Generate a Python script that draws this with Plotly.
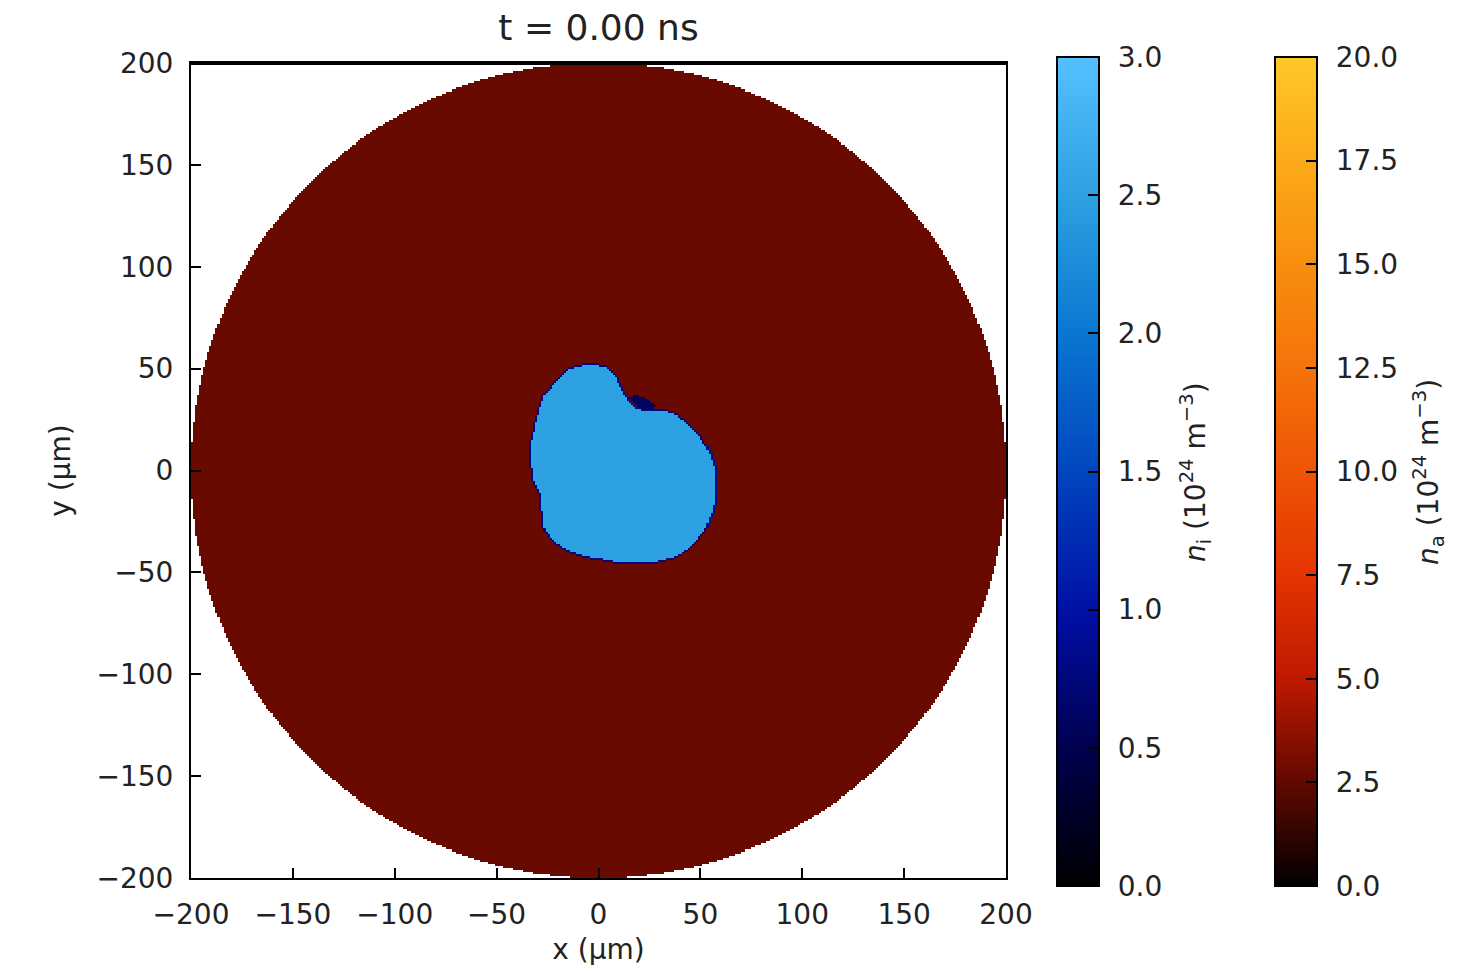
import numpy as np
import plotly.graph_objects as go

# ---- data ----
disk_radius = 200.0          # μm, extent of the n_a region
n_a_disk = 2.7               # 10^24 m^-3
n_i_blob = 2.5               # 10^24 m^-3
n_i_edge = 0.8               # darker rim of the blob
n_i_patch = 0.6              # dark patch at the notch
# blob outline (μm)
blob_x = [-4.2, 4.0, 8.9, 11.4, 14.6, 18.7, 23.6, 30.2, 38.4, 44.9, 50.6, 55.5, 58.0, 58.3, 57.2,
          53.1, 46.5, 38.4, 28.5, 18.7, 7.3, -5.8, -15.6, -23.0, -27.9, -28.7, -29.5, -32.8, -33.9,
          -33.6, -31.2, -27.9, -21.3, -14.0]
blob_y = [53.4, 51.8, 46.9, 41.1, 35.4, 31.3, 29.7, 30.5, 28.1, 23.1, 16.6, 8.4, 0.2, -9.6, -19.4,
          -29.2, -37.4, -43.1, -45.6, -46.4, -45.6, -43.1, -39.8, -34.9, -27.6, -17.8, -11.2, -4.7, 3.5,
          15.0, 24.8, 36.2, 44.4, 51.0]
# dark patch just outside the notch (μm)
patch_x = [15, 19, 25, 29, 23.6, 18.7]
patch_y = [36, 37, 35, 31, 29.7, 31.3]

x_ticks = [-200, -150, -100, -50, 0, 50, 100, 150, 200]
y_ticks = [-200, -150, -100, -50, 0, 50, 100, 150, 200]
ni_ticks = [0.0, 0.5, 1.0, 1.5, 2.0, 2.5, 3.0]
na_ticks = [0.0, 2.5, 5.0, 7.5, 10.0, 12.5, 15.0, 17.5, 20.0]

# ---- grid ----
step = 1.0
xs = np.arange(-200 + step / 2, 200, step)
ys = np.arange(-200 + step / 2, 200, step)
X, Y = np.meshgrid(xs, ys)

def inside_polygon(px, py, vx, vy):
    vx = np.asarray(vx, float); vy = np.asarray(vy, float)
    n = len(vx)
    res = np.zeros(px.shape, bool)
    j = n - 1
    for i in range(n):
        xi, yi, xj, yj = vx[i], vy[i], vx[j], vy[j]
        cond = ((yi > py) != (yj > py))
        with np.errstate(divide="ignore", invalid="ignore"):
            xint = (xj - xi) * (py - yi) / (yj - yi) + xi
        res ^= cond & (px < xint)
        j = i
    return res

blob = inside_polygon(X, Y, blob_x, blob_y)
patch = inside_polygon(X, Y, patch_x, patch_y) & ~blob
disk = (X**2 + Y**2) <= disk_radius**2

core = blob.copy()
core[1:, :] &= blob[:-1, :]
core[:-1, :] &= blob[1:, :]
core[:, 1:] &= blob[:, :-1]
core[:, :-1] &= blob[:, 1:]
rim = blob & ~core

z_a = np.where(disk & ~blob & ~patch, n_a_disk, np.nan)
z_i = np.where(core, n_i_blob, np.where(rim, n_i_edge, np.where(patch, n_i_patch, np.nan)))

cs_i = [[0.0, "rgb(0,0,0)"], [0.17, "rgb(0,0,80)"], [0.33, "rgb(0,15,165)"],
        [0.5, "rgb(0,70,190)"], [0.67, "rgb(10,120,210)"], [0.83, "rgb(45,160,225)"],
        [1.0, "rgb(85,192,255)"]]
cs_a = [[0.0, "rgb(0,0,0)"], [0.125, "rgb(97,9,0)"], [0.25, "rgb(190,25,0)"],
        [0.375, "rgb(228,52,0)"], [0.5, "rgb(238,85,5)"], [0.625, "rgb(245,115,10)"],
        [0.75, "rgb(248,142,15)"], [0.875, "rgb(252,170,25)"], [1.0, "rgb(255,200,40)"]]

FONT = "DejaVu Sans"
TXT = "#222"
H = 971.0
W = 1460.0

def cbar(x, ticks):
    return dict(
        x=x, xanchor="left", xpad=0, ypad=0,
        y=1 - 471.5 / H, yanchor="middle",
        len=829, lenmode="pixels", thickness=42, thicknessmode="pixels",
        outlinecolor="black", outlinewidth=2,
        tickvals=ticks, ticktext=["\u2005\u2006" + f"{v:.1f}" for v in ticks],
        ticks="inside", ticklen=12, tickcolor="black", tickwidth=2,
        tickfont=dict(family=FONT, size=28, color=TXT),
    )

fig = go.Figure()
fig.add_trace(go.Heatmap(
    x=xs, y=ys, z=z_a, zmin=0, zmax=20, colorscale=cs_a,
    colorbar=cbar(1275 / W, na_ticks), hoverongaps=False,
))
fig.add_trace(go.Heatmap(
    x=xs, y=ys, z=z_i, zmin=0, zmax=3, colorscale=cs_i,
    colorbar=cbar(1057 / W, ni_ticks), hoverongaps=False,
))

axis_common = dict(
    showgrid=False, zeroline=False, ticks="inside", ticklen=10, tickwidth=2,
    tickcolor="black", showline=True, linecolor="black", linewidth=2, mirror=True,
    tickfont=dict(family=FONT, size=28, color=TXT), ticklabelstandoff=10,
)
fig.update_layout(
    width=1460, height=971,
    margin=dict(l=0, r=0, t=0, b=0, autoexpand=False),
    paper_bgcolor="white", plot_bgcolor="white",
    title=dict(text="t = 0.00 ns", x=598.5 / W, xanchor="center", y=1 - 27 / H, yanchor="middle",
               font=dict(family=FONT, size=36, color=TXT)),
    xaxis=dict(axis_common, domain=[191 / W, 1006 / W], range=[-200, 200], tickformat="d",
               tickvals=x_ticks, title=dict(text="x (μm)", font=dict(family=FONT, size=28, color=TXT), standoff=10)),
    yaxis=dict(axis_common, domain=[1 - 878 / H, 1 - 63 / H], range=[-200, 200], tickformat="d",
               tickvals=y_ticks, title=dict(text="y (μm)", font=dict(family=FONT, size=28, color=TXT), standoff=18)),
)
fig.add_shape(type="line", xref="paper", yref="paper", x0=191 / W, x1=1006 / W,
              y0=1 - 63 / H, y1=1 - 63 / H, line=dict(color="black", width=4))
for xl, xr in [(1057, 1099), (1275, 1316)]:
    fig.add_shape(type="line", xref="paper", yref="paper", x0=xl / W, x1=xr / W,
                  y0=1 - 58 / H, y1=1 - 58 / H, line=dict(color="black", width=4))

for xc, label in [(1195, "<i>n</i><sub>i</sub> (10<sup>24</sup> m<sup>−3</sup>)"),
                  (1428, "<i>n</i><sub>a</sub> (10<sup>24</sup> m<sup>−3</sup>)")]:
    fig.add_annotation(x=xc / W, y=1 - 472 / H, xref="paper", yref="paper", text=label,
                       textangle=-90, showarrow=False, xanchor="center", yanchor="middle",
                       font=dict(family=FONT, size=28, color=TXT))

fig.write_html("out.html")
